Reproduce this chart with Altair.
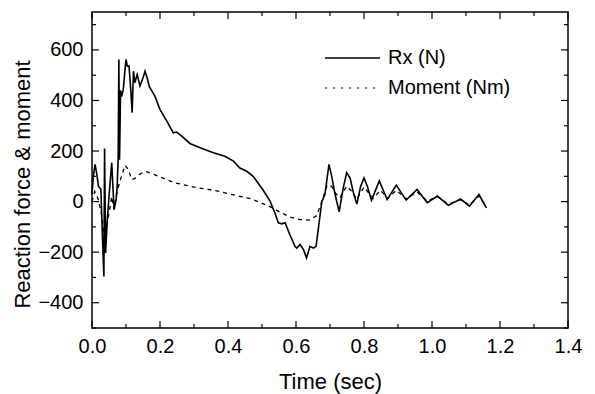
import altair as alt
import pandas as pd

# ---- data ----
rx_t = [0.000, 0.004, 0.009, 0.014, 0.019, 0.026, 0.031, 0.035, 0.037, 0.040,
        0.045, 0.050, 0.058, 0.065, 0.071, 0.074, 0.077, 0.079, 0.081, 0.084,
        0.087, 0.092, 0.097, 0.100, 0.104, 0.109, 0.112, 0.114, 0.118, 0.122,
        0.126, 0.133, 0.141, 0.150, 0.156, 0.162, 0.169, 0.185, 0.200, 0.220,
        0.239, 0.249, 0.264, 0.288, 0.318, 0.357, 0.391, 0.416, 0.435, 0.455,
        0.474, 0.504, 0.524, 0.538, 0.548, 0.558, 0.568, 0.582, 0.597, 0.602,
        0.612, 0.622, 0.631, 0.641, 0.651, 0.659, 0.676, 0.685, 0.697, 0.705,
        0.715, 0.727, 0.739, 0.749, 0.759, 0.769, 0.779, 0.790, 0.800, 0.810,
        0.822, 0.845, 0.868, 0.895, 0.924, 0.956, 0.986, 1.016, 1.048, 1.084,
        1.110, 1.138, 1.160]
rx_v = [30, 100, 147, 110, 60, 50, -150, -296, 210, -203,
        -71, 20, 154, -32, 8, 60, 170, 562, 166, 440,
        416, 443, 520, 562, 536, 536, 480, 443, 352, 516,
        470, 503, 457, 490, 516, 490, 454, 417, 364, 318,
        272, 275, 259, 230, 213, 193, 179, 160, 133, 120,
        100, 44, 1, -45, -84, -88, -84, -131, -177, -184,
        -170, -190, -223, -177, -184, -177, 1, 28, 147, 100,
        28, -40, 54, 114, 94, 34, -10, 60, 94, 60,
        5, 82, 8, 65, 6, 48, -4, 22, -15, 10,
        -18, 28, -25]

m_t = [0.000, 0.008, 0.018, 0.028, 0.036, 0.044, 0.052, 0.058, 0.064, 0.073,
       0.082, 0.097, 0.107, 0.117, 0.126, 0.145, 0.161, 0.200, 0.239, 0.274,
       0.308, 0.342, 0.376, 0.405, 0.435, 0.465, 0.494, 0.524, 0.553, 0.582,
       0.612, 0.641, 0.661, 0.676, 0.692, 0.705, 0.718, 0.729, 0.749, 0.765,
       0.778, 0.800, 0.827, 0.848, 0.870, 0.895, 0.924, 0.956, 0.986, 1.016,
       1.048, 1.084, 1.110, 1.138, 1.160]
m_v = [0, 40, 10, -50, -130, -90, -30, 20, -30, 34,
       80, 143, 127, 87, 92, 112, 118, 98, 76, 65,
       55, 48, 40, 30, 21, 12, -3, -20, -42, -61,
       -71, -73, -55, 1, 67, 60, 30, 15, 61, 40,
       8, 58, 12, 45, 12, 45, 10, 38, 2, 20,
       -10, 8, -14, 22, -20]

x_major = [0.0, 0.2, 0.4, 0.6, 0.8, 1.0, 1.2, 1.4]
x_minor = [0.1, 0.3, 0.5, 0.7, 0.9, 1.1, 1.3]
y_major = [-400, -200, 0, 200, 400, 600]
y_minor = [-500, -300, -100, 100, 300, 500, 700]

legend_labels = ["Rx (N)", "Moment (Nm)"]
x_title = "Time (sec)"
y_title = "Reaction force & moment"

FONT = "Liberation Sans"
W, H = 476, 316

xscale = alt.Scale(domain=[0, 1.4], nice=False, zero=False)
yscale = alt.Scale(domain=[-500, 750], nice=False, zero=False)

rx_df = pd.DataFrame({"t": rx_t, "v": rx_v})
m_df = pd.DataFrame({"t": m_t, "v": m_v})

x_axis = alt.Axis(values=x_major, format=".1f", ticks=False, domain=False, grid=False,
                  labelFlush=False, labelOverlap=False,
                  labelFontSize=20, labelFont=FONT, labelColor="black", labelPadding=8,
                  title=x_title, titleFont=FONT, titleFontSize=22, titleFontWeight="normal",
                  titleColor="black", titleY=53, titleBaseline="middle")
y_axis = alt.Axis(values=y_major, format="d", ticks=False, domain=False, grid=False,
                  labelFlush=False, labelOverlap=False,
                  labelFontSize=20, labelFont=FONT, labelColor="black", labelPadding=9,
                  title=y_title, titleFont=FONT, titleFontSize=22, titleFontWeight="normal",
                  titleColor="black", titleX=-70, titleY=172, titleAngle=270,
                  titleAlign="center", titleBaseline="middle")

X = lambda f: alt.X(f, scale=xscale, axis=x_axis)
Y = lambda f: alt.Y(f, scale=yscale, axis=y_axis)

rx_line = alt.Chart(rx_df).mark_line(color="black", strokeWidth=1.6).encode(
    x=X("t:Q"), y=Y("v:Q"), order="t:Q")
m_line = alt.Chart(m_df).mark_line(color="black", strokeWidth=1.3, strokeDash=[4, 4]).encode(
    x=X("t:Q"), y=Y("v:Q"), order="t:Q")

def xticks(vals, length):
    df = pd.DataFrame({"t": vals})
    base = alt.Chart(df).mark_rule(color="black", strokeWidth=1.2)
    bottom = base.encode(x=X("t:Q"), y=alt.value(H), y2=alt.value(H - length))
    top = base.encode(x=X("t:Q"), y=alt.value(0), y2=alt.value(length))
    return [bottom, top]

def yticks(vals, length):
    df = pd.DataFrame({"v": vals})
    base = alt.Chart(df).mark_rule(color="black", strokeWidth=1.2)
    left = base.encode(y=Y("v:Q"), x=alt.value(0), x2=alt.value(length))
    right = base.encode(y=Y("v:Q"), x=alt.value(W), x2=alt.value(W - length))
    return [left, right]

one = pd.DataFrame({"a": [0]})
leg_rx = alt.Chart(one).mark_rule(color="black", strokeWidth=1.6).encode(
    x=alt.value(233), x2=alt.value(288), y=alt.value(46))
leg_m = alt.Chart(one).mark_rule(color="black", strokeWidth=1.2, strokeDash=[2, 6]).encode(
    x=alt.value(233), x2=alt.value(288), y=alt.value(76))
leg_t1 = alt.Chart(one).mark_text(align="left", baseline="middle", fontSize=20, font=FONT,
                                  color="black").encode(
    x=alt.value(296), y=alt.value(46), text=alt.value(legend_labels[0]))
leg_t2 = alt.Chart(one).mark_text(align="left", baseline="middle", fontSize=20, font=FONT,
                                  color="black").encode(
    x=alt.value(296), y=alt.value(76), text=alt.value(legend_labels[1]))

layers = [rx_line, m_line] + xticks(x_major, 7) + xticks(x_minor, 4) \
    + yticks(y_major, 7) + yticks(y_minor, 4) + [leg_rx, leg_m, leg_t1, leg_t2]

chart = alt.layer(*layers).properties(
    width=W, height=H,
    autosize=alt.AutoSizeParams(type="none"),
    padding={"left": 84, "top": 4, "right": 19, "bottom": 66},
    background="white",
).configure_view(stroke="black", strokeWidth=1.5)

chart.save("out.html", embed_options={"renderer": "svg", "actions": False})
